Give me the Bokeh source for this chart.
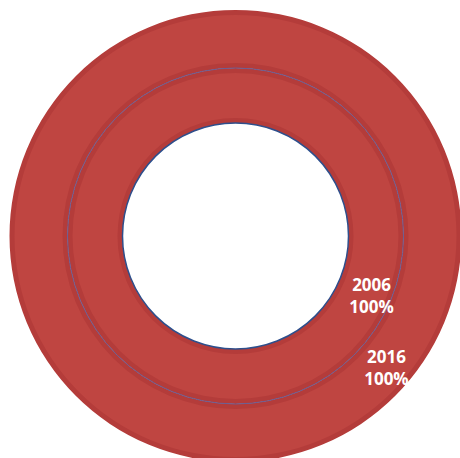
import math
from bokeh.plotting import figure
from bokeh.models import ColumnDataSource
from bokeh.core.properties import value
from bokeh.embed import file_html
from bokeh.resources import INLINE

# data
years = ["2006", "2016"]
shares = [100, 100]
labels = [f"{y}\n{s}%" for y, s in zip(years, shares)]

# style / geometry (pixel units)
W, H = 460, 458
cx, cy = 235, H - 235.5
inner_r = [113, 168]
outer_r = [168, 226]
band = 5
label_r_off = [8, 3]
label_ang = [-23.6, -41.0]

MAIN = "#BF4541"
DARK = "#B43C3A"

p = figure(width=W, height=H, x_range=(0, W), y_range=(0, H),
           output_backend="svg", toolbar_location=None, min_border=0)
p.axis.visible = False
p.grid.visible = False
p.outline_line_color = None
p.background_fill_color = "white"
p.border_fill_color = "white"

start = [0.0 for _ in shares]
end = [2 * math.pi * s / 100.0 for s in shares]

src_dark = ColumnDataSource(dict(ir=inner_r, orr=outer_r, s=start, e=end))
p.annular_wedge(x=cx, y=cy, inner_radius="ir", outer_radius="orr",
                start_angle="s", end_angle="e", source=src_dark,
                fill_color=DARK, line_color=None)
src_main = ColumnDataSource(dict(ir=[r + band for r in inner_r],
                                 orr=[r - band for r in outer_r], s=start, e=end))
p.annular_wedge(x=cx, y=cy, inner_radius="ir", outer_radius="orr",
                start_angle="s", end_angle="e", source=src_main,
                fill_color=MAIN, line_color=None)

# thin blue boundary lines
p.circle(x=[cx, cx], y=[cy, cy], radius=[inner_r[0], inner_r[1]],
         fill_color=None, line_color=["#2E4F8C", "#6A5E94"], line_width=[1.5, 1.0])

# labels
lx, ly = [], []
for i in range(len(years)):
    r = (inner_r[i] + outer_r[i]) / 2 + label_r_off[i]
    a = math.radians(label_ang[i])
    lx.append(cx + r * math.cos(a))
    ly.append(cy + r * math.sin(a))
p.text(x=lx, y=ly, text=labels, text_color="white", text_font=value("Open Sans"),
       text_font_style="bold", text_font_size="17px", text_align="center",
       text_baseline="middle", text_line_height=0.95)

open("out.html", "w").write(file_html(p, INLINE))
